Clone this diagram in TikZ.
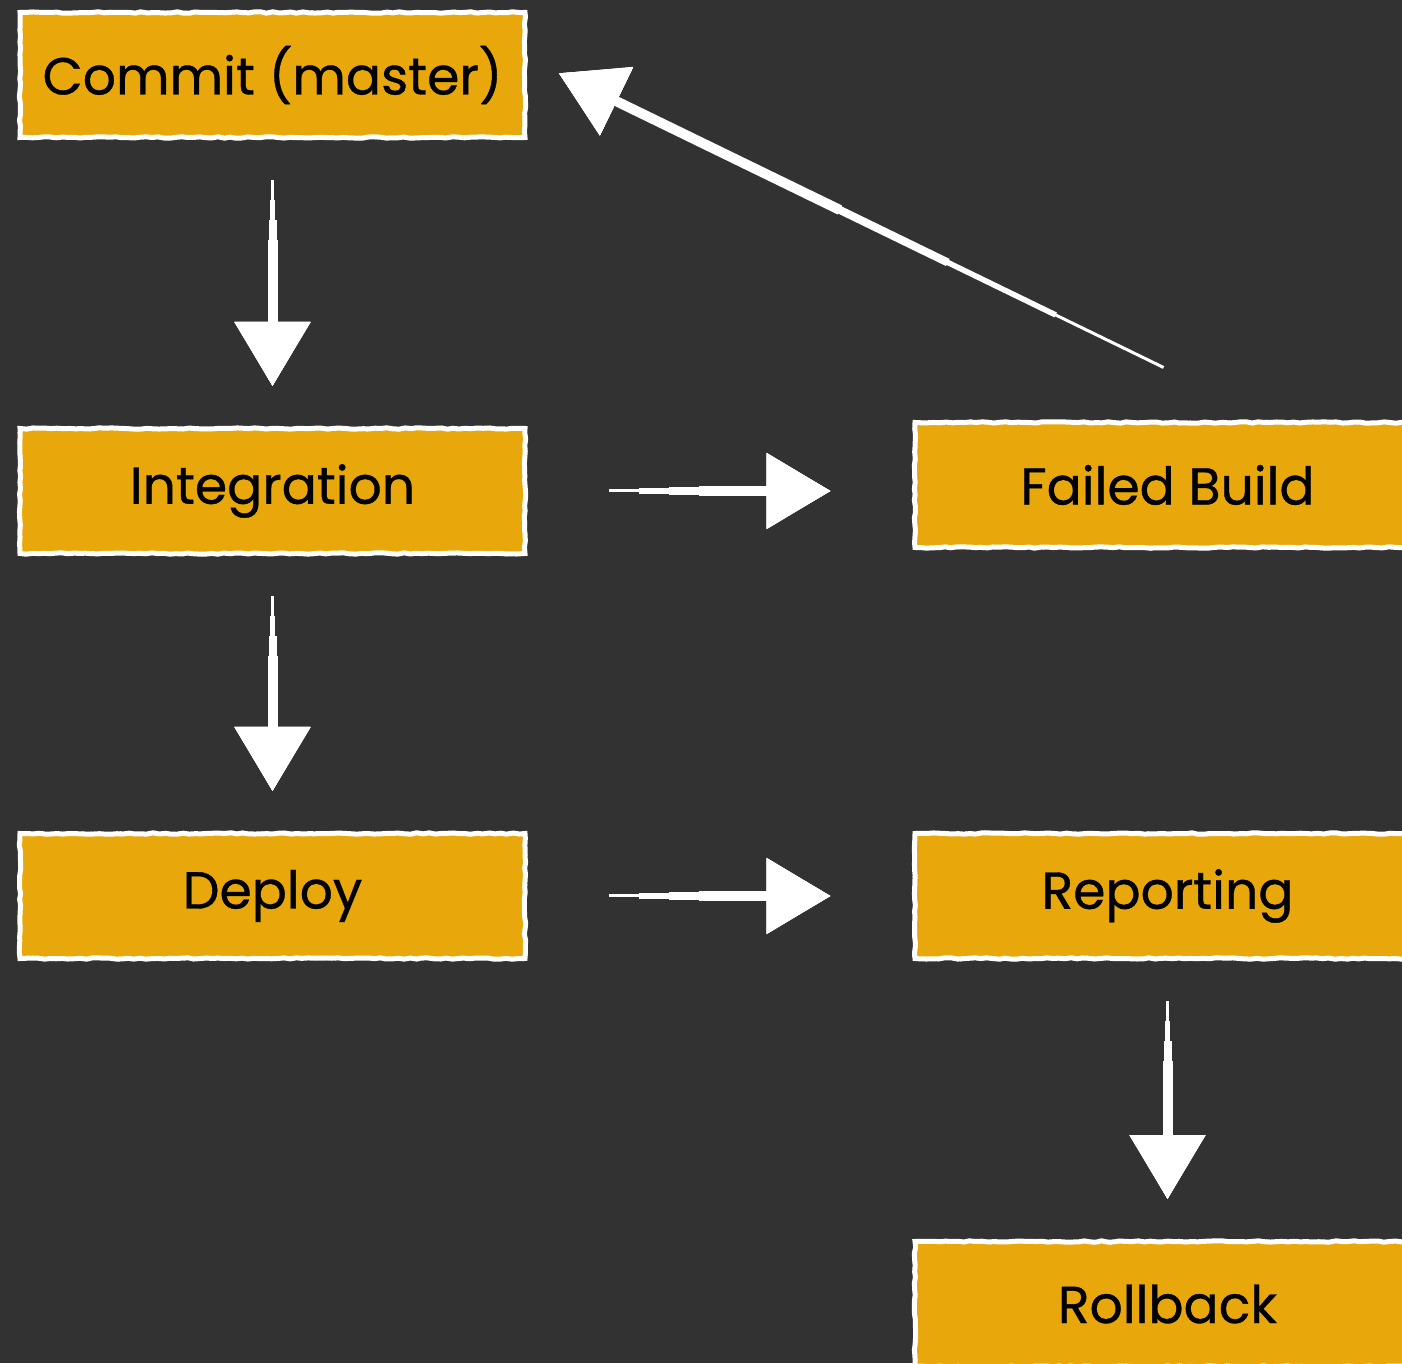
\documentclass[tikz,border=0pt]{standalone}
\usepackage{fontspec}
\setmainfont{Poppins}[UprightFeatures={FakeBold=0.7}]
\usetikzlibrary{positioning,arrows.meta,decorations.pathmorphing}

\definecolor{board}{HTML}{323232}
\definecolor{amber}{HTML}{E8A70A}

\tikzset{
  stage/.style={draw=white, fill=amber, line width=5pt,
    minimum width=505pt, minimum height=125pt,
    font=\fontsize{52}{60}\selectfont, text=black,
    decorate, decoration={random steps, segment length=6pt, amplitude=0.7pt},
    postaction={draw=white, line width=1.2pt, decorate,
      decoration={random steps, segment length=3pt, amplitude=2pt}}},
  % #1 = gap at the tail, #2 = how fast the shaft thickens
  chalk/.style 2 args={draw=white, line width=3pt,
    -{Triangle[length=64pt,width=74pt]}, shorten <=#1,
    postaction={draw=white, line width=5.5pt, shorten <={#1+#2}},
    postaction={draw=white, line width=8pt, shorten <={#1+2*#2}},
    postaction={draw=white, line width=10pt, shorten <={#1+3*#2}}}
}

\begin{document}
\begin{tikzpicture}
  \pgfmathsetseed{7}
  \useasboundingbox (0,0) rectangle (1402pt,1363pt);
  \fill[board] (0,0) rectangle (1402pt,1363pt);
  \clip (0,0) rectangle (1402pt,1363pt);

  \node[stage] (commit) at (272.5pt,1288pt) {Commit (master)};
  \node[stage, below=286pt of commit] (integ) {Integration};
  \node[stage, below=275pt of integ] (deploy) {Deploy};
  \node[stage, right=385pt of integ, yshift=6pt] (failed) {Failed Build};
  \node[stage, right=385pt of deploy] (report) {Reporting};
  \node[stage, below=278pt of report] (rollback) {Rollback};

  \draw[chalk={40pt}{20pt}, shorten >=40pt] (commit) -- (integ);
  \draw[chalk={40pt}{20pt}, shorten >=40pt] (integ) -- (deploy);
  \draw[chalk={81pt}{30pt}, shorten >=82pt] (integ) -- (failed.west |- integ);
  \draw[chalk={81pt}{30pt}, shorten >=82pt] (deploy) -- (report);
  \draw[chalk={40pt}{20pt}, shorten >=40pt] (report) -- (rollback);
  % back to the start when the build breaks
  \draw[chalk={120pt}{120pt}, shorten >=35pt]
    ([xshift=104pt]failed.north) -- ([yshift=17pt]commit.east);
\end{tikzpicture}
\end{document}
